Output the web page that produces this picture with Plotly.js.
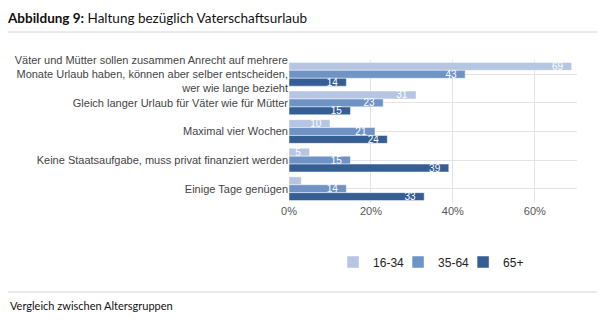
<!DOCTYPE html>
<html>
<head>
<meta charset="utf-8">
<script src="https://cdn.plot.ly/plotly-3.0.1.min.js"></script>
<style>
html,body{margin:0;padding:0;background:#fff;}
#chart{width:605px;height:324px;}
</style>
</head>
<body>
<div id="chart"></div>
<script>
const categories = [
  "Väter und Mütter sollen zusammen Anrecht auf mehrere<br>Monate Urlaub haben, können aber selber entscheiden,<br>wer wie lange bezieht",
  "Gleich langer Urlaub für Väter wie für Mütter",
  "Maximal vier Wochen",
  "Keine Staatsaufgabe, muss privat finanziert werden",
  "Einige Tage genügen"
];
const seriesNames = ["16-34", "35-64", "65+"];
const values1634 = [69, 31, 10, 5, 3];
const values3564 = [43, 23, 21, 15, 14];
const values65 = [14, 15, 24, 39, 33];
const tickVals = [0, 20, 40, 60];
const tickText = ["0%", "20%", "40%", "60%"];
const colors = ["#b6c5e1", "#7093c6", "#355e94"];

const allValues = [values1634, values3564, values65];
const traces = allValues.map((vals, i) => ({
  type: "bar",
  orientation: "h",
  name: seriesNames[i],
  y: categories,
  x: vals,
  text: vals.map(v => v >= 5 ? String(v) + "\u00a0\u00a0" : ""),
  textposition: "inside",
  insidetextanchor: "end",
  textangle: 0,
  constraintext: "none",
  textfont: {family: "Liberation Sans, Arial, sans-serif", size: 10, color: "#ffffff"},
  marker: {color: colors[i], line: {color: "rgba(255,255,255,0.6)", width: 0.8}},
  hoverinfo: "x+name"
}));

const layout = {
  width: 605,
  height: 324,
  margin: {l: 289, r: 28, t: 60, b: 121},
  paper_bgcolor: "#ffffff",
  plot_bgcolor: "#ffffff",
  barmode: "group",
  bargap: 0.17,
  bargroupgap: 0,
  font: {family: "Liberation Sans, Arial, sans-serif", size: 11, color: "#444"},
  xaxis: {
    range: [0, 70.3],
    tickvals: tickVals,
    ticktext: tickText,
    showgrid: true,
    gridcolor: "#e3e3e3",
    gridwidth: 1,
    zeroline: false,
    showline: false,
    ticks: "",
    tickfont: {size: 11, color: "#555"},
    fixedrange: true
  },
  yaxis: {
    autorange: "reversed",
    showgrid: true,
    gridcolor: "#e3e3e3",
    gridwidth: 1,
    ticks: "",
    ticklen: 0,
    tickfont: {size: 11, color: "#444"},
    fixedrange: true
  },
  showlegend: true,
  legend: {
    orientation: "h",
    x: 0.153,
    xanchor: "left",
    y: -0.41,
    yanchor: "middle",
    entrywidth: 20,
    entrywidthmode: "pixels",
    font: {family: "Liberation Sans, Arial, sans-serif", size: 12, color: "#222"},
    traceorder: "normal"
  },
  title: {
    text: "<b>Abbildung 9:</b> Haltung bezüglich Vaterschaftsurlaub",
    font: {family: "Lato, sans-serif", size: 13.5, color: "#111"},
    xanchor: "left",
    yanchor: "middle"
  },
  annotations: [{
    text: "Vergleich zwischen Altersgruppen",
    xref: "paper", yref: "paper",
    xanchor: "left",
    yanchor: "middle",
    showarrow: false,
    font: {family: "Lato, sans-serif", size: 11, color: "#111"}
  }],
  shapes: [
    {type: "line", xref: "paper", yref: "paper", line: {color: "#d6d6d6", width: 1}},
    {type: "line", xref: "paper", yref: "paper", line: {color: "#d6d6d6", width: 1}}
  ]
};

// Convert pixel positions of page furniture to paper coordinates
const plotL = 289, plotW = 605 - 289 - 28, plotT = 60, plotH = 324 - 60 - 121;
const px = x => (x - plotL) / plotW;
const py = y => (plotT + plotH - y) / plotH;
layout.title.x = 8 / 605;
layout.title.xref = "container";
layout.title.y = 1 - 18 / 324;
layout.title.yref = "container";
layout.annotations[0].x = px(8);
layout.annotations[0].y = py(305);
layout.shapes[0].x0 = px(8); layout.shapes[0].x1 = px(597);
layout.shapes[0].y0 = py(32); layout.shapes[0].y1 = py(32);
layout.shapes[1].x0 = px(8); layout.shapes[1].x1 = px(597);
layout.shapes[1].y0 = py(292); layout.shapes[1].y1 = py(292);
layout.legend.y = py(262);

Plotly.newPlot("chart", traces, layout, {displayModeBar: false, responsive: false});
</script>
</body>
</html>
